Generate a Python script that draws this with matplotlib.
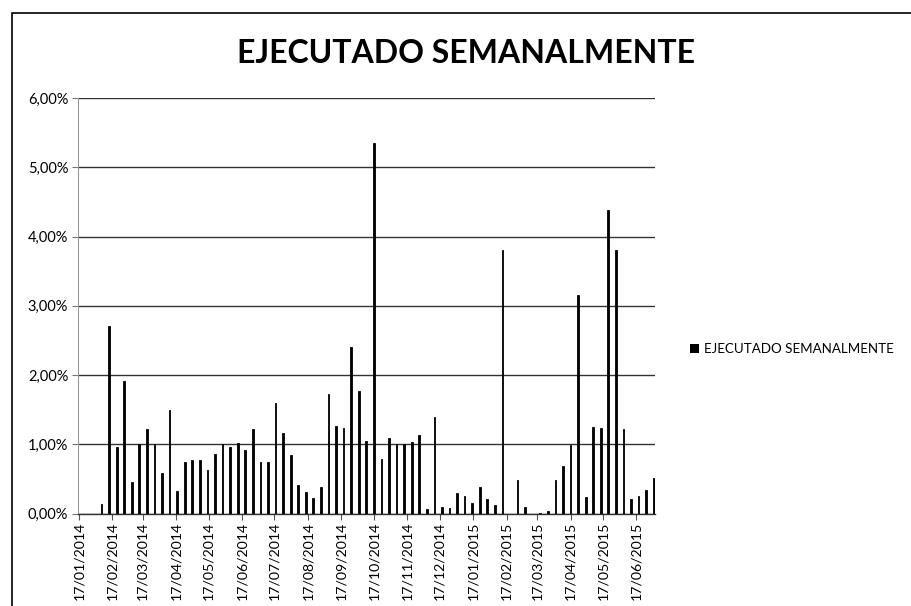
import numpy as np
import pandas as pd
import matplotlib
matplotlib.use("Agg")
import matplotlib.pyplot as plt
import matplotlib.dates as mdates
from matplotlib.ticker import FuncFormatter
from matplotlib.patches import Patch, Rectangle

title = "EJECUTADO SEMANALMENTE"
series_name = "EJECUTADO SEMANALMENTE"
start_date = "2014-01-17"

# weekly executed percentage (one value per week starting 17/01/2014)
weekly_pct = [
    0.00, 0.00, 0.00, 0.14, 2.71, 0.96, 1.91, 0.45, 1.00, 1.22,
    1.00, 0.59, 1.50, 0.32, 0.75, 0.77, 0.77, 0.63, 0.86, 1.01,
    0.96, 1.02, 0.92, 1.22, 0.75, 0.75, 1.59, 1.17, 0.85, 0.41,
    0.31, 0.22, 0.39, 1.72, 1.27, 1.23, 2.40, 1.77, 1.05, 5.35,
    0.79, 1.09, 1.01, 1.01, 1.04, 1.13, 0.07, 1.39, 0.10, 0.08,
    0.29, 0.25, 0.15, 0.39, 0.21, 0.13, 3.81, 0.00, 0.49, 0.09,
    0.00, 0.01, 0.04, 0.49, 0.68, 0.99, 3.16, 0.24, 1.25, 1.23,
    4.39, 3.80, 1.22, 0.21, 0.25, 0.34, 0.52,
]
y_ticks = [0, 1, 2, 3, 4, 5, 6]

dates = pd.date_range(start_date, periods=len(weekly_pct), freq="7D")
month_ticks = pd.date_range("2014-01-01", "2015-06-01", freq="MS") + pd.Timedelta(days=16)

plt.rcParams["font.family"] = ["Lato", "DejaVu Sans"]

fig = plt.figure(figsize=(9.12, 6.06), dpi=100)
ax = fig.add_axes([0.0855, 0.1526, 0.6325, 0.6854])

ax.bar(dates, weekly_pct, width=1.6, color="black", edgecolor="black",
       linewidth=0.6, zorder=3)

ax.set_xlim(dates[0] - pd.Timedelta(days=0.8), dates[-1] + pd.Timedelta(days=1))
ax.set_ylim(0, 6)
ax.set_yticks(y_ticks)
ax.yaxis.set_major_formatter(FuncFormatter(lambda v, p: f"{v:.2f}".replace(".", ",") + "%"))
ax.set_xticks(month_ticks)
ax.xaxis.set_major_formatter(mdates.DateFormatter("%d/%m/%Y"))
ax.tick_params(axis="x", rotation=90, labelsize=10.2, length=4, width=0.8, color="#555555", pad=2)
ax.tick_params(axis="y", labelsize=10.5, length=4, width=0.8, color="#777777", pad=3)

ax.grid(axis="y", color="#333333", linewidth=1.0, zorder=0)
for side in ["top", "right"]:
    ax.spines[side].set_visible(False)
ax.spines["left"].set_color("#999999")
ax.spines["left"].set_linewidth(0.8)
ax.spines["bottom"].set_color("#333333")
ax.spines["bottom"].set_linewidth(1.0)

fig.text(0.511, 0.912, title, ha="center", va="center", fontsize=23, fontweight="bold")

fig.legend(handles=[Patch(facecolor="black", label=series_name)],
           loc="center left", bbox_to_anchor=(0.743, 0.424), frameon=False,
           fontsize=9.6, handlelength=0.7, handleheight=0.7, handletextpad=0.4)

# outer chart frame (left and top edges visible)
fig.add_artist(Rectangle((12 / 912, -0.1), 1.0, 1.1 - 13 / 606, transform=fig.transFigure,
                         fill=False, edgecolor="black", linewidth=1.2))

fig.savefig("out.png", dpi=100)
